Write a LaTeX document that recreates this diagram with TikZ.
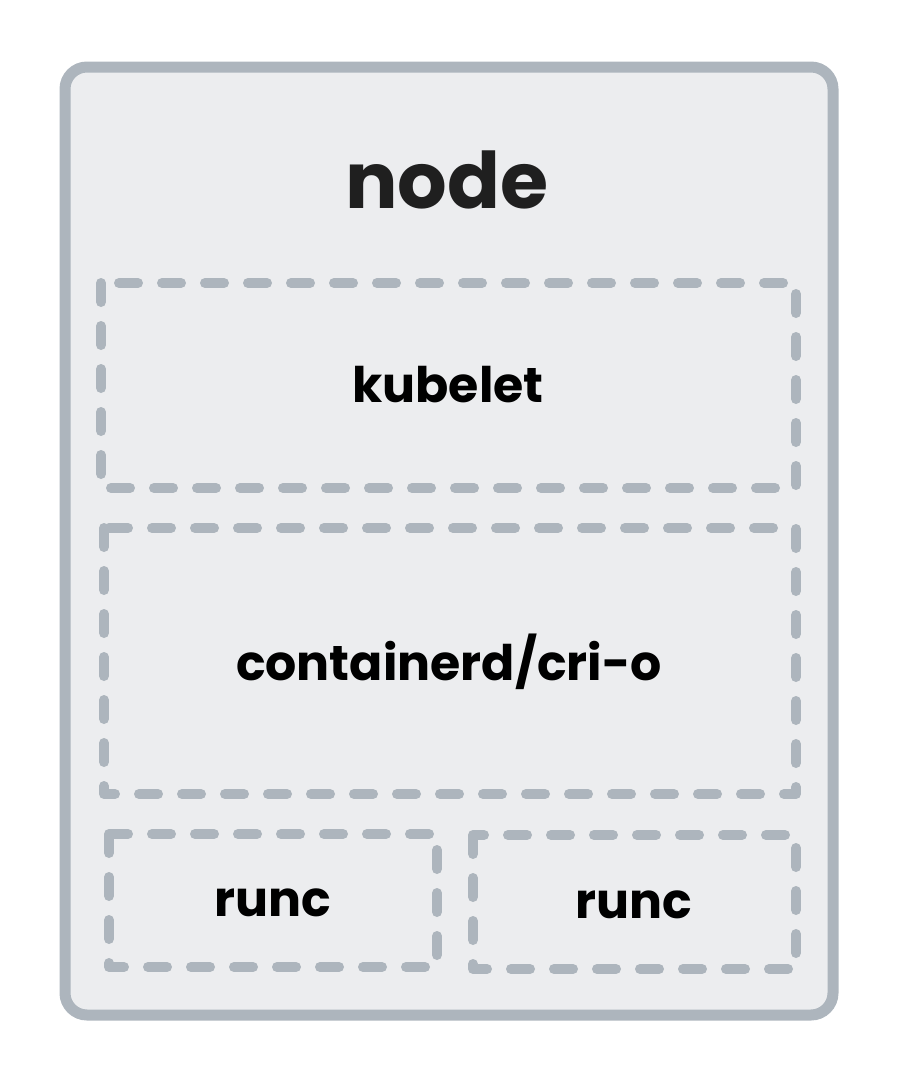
\documentclass[tikz,border=0pt]{standalone}
\usepackage{fontspec}
\setmainfont{Poppins}[BoldFont={Poppins Bold}]
\definecolor{strk}{HTML}{ADB5BD}
\definecolor{fil}{HTML}{ECEDEF}
\begin{document}
\begin{tikzpicture}[x=1pt,y=-1pt,
  outerbox/.style={draw=strk,fill=fil,line width=11pt,rounded corners=22pt},
  dashbox/.style={draw=strk,line width=10pt,line cap=round,line join=round,dash pattern=on 19pt off 24pt},
  lbl/.style={font=\bfseries\fontsize{49}{54}\selectfont,text=black,inner sep=0pt},
  title/.style={font=\bfseries\fontsize{78}{84}\selectfont,text=black!88,inner sep=0pt}]
\useasboundingbox (0,0) rectangle (902,1082);
\draw[outerbox] (65,67) rectangle (833,1015);
\node[title] (nodet) at (447,180) {node};
\draw[dashbox] (101,283) rectangle (796,488);
\node[lbl] (kub) at (448,385) {kubelet};
\draw[dashbox] (104,528) rectangle (796,794);
\node[lbl] (cri) at (449,662) {containerd/cri-o};
\draw[dashbox] (109,834) rectangle (437,967);
\node[lbl] (r1) at (273,903) {runc};
\draw[dashbox] (473,835) rectangle (796,969);
\node[lbl] (r2) at (634,905) {runc};
\end{tikzpicture}
\end{document}
